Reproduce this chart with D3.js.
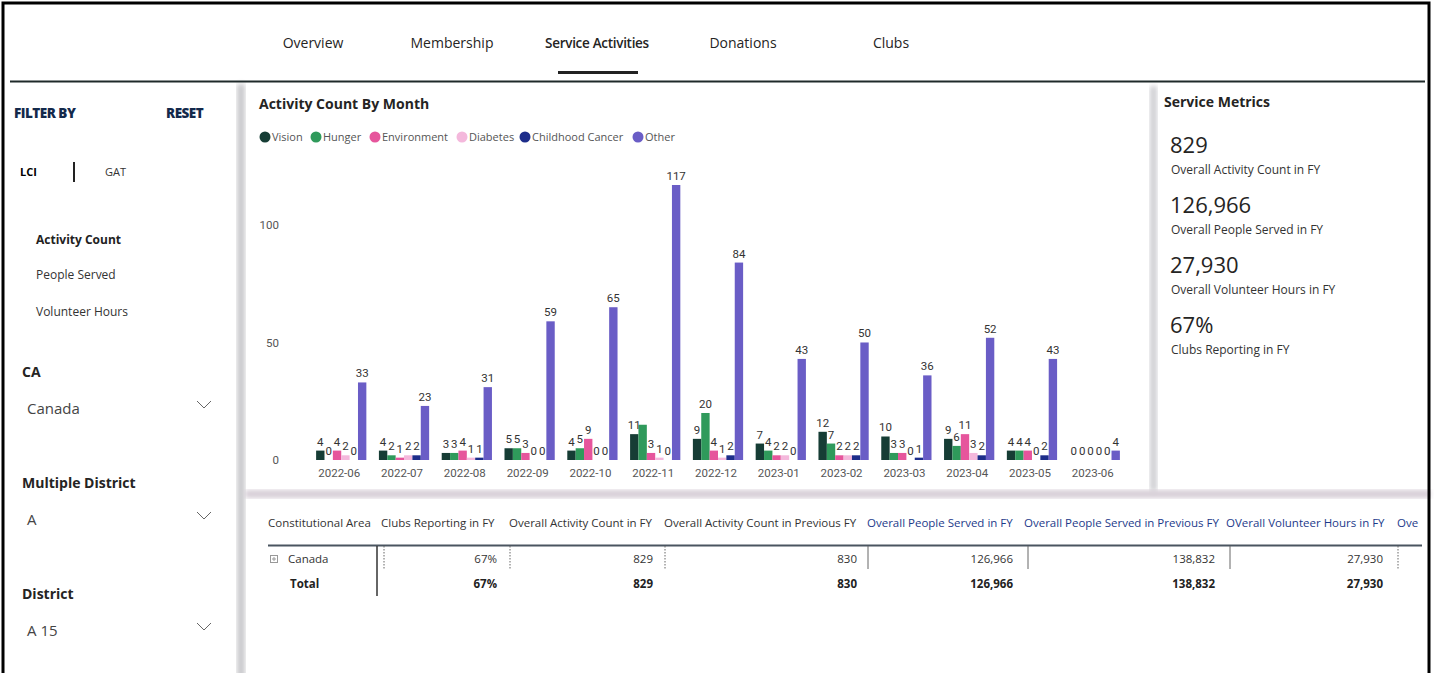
<!DOCTYPE html>
<html>
<head>
<meta charset="utf-8">
<script src="https://cdn.jsdelivr.net/npm/d3@7"></script>
<style>
  body { margin: 0; background: #fff; overflow: hidden; }
  svg { display: block; font-family: "Open Sans", "Noto Sans", sans-serif; }
</style>
</head>
<body>
<div id="page"></div>
<script>
// chart data
const months = ['2022-06', '2022-07', '2022-08', '2022-09', '2022-10', '2022-11', '2022-12',
                '2023-01', '2023-02', '2023-03', '2023-04', '2023-05', '2023-06'];
const seriesNames = ['Vision', 'Hunger', 'Environment', 'Diabetes', 'Childhood Cancer', 'Other'];
const vision = [4, 4, 3, 5, 4, 11, 9, 7, 12, 10, 9, 4, 0];
const hunger = [0, 2, 3, 5, 5, 15, 20, 4, 7, 3, 6, 4, 0];
const environment = [4, 1, 4, 3, 9, 3, 4, 2, 2, 3, 11, 4, 0];
const diabetes = [2, 2, 1, 0, 0, 1, 1, 2, 2, 0, 3, 0, 0];
const childhoodCancer = [0, 2, 1, 0, 0, 0, 2, 0, 2, 1, 2, 2, 0];
const other = [33, 23, 31, 59, 65, 117, 84, 43, 50, 36, 52, 43, 4];
const yTicks = [0, 50, 100];

// page text
const tabs = ['Overview', 'Membership', 'Service Activities', 'Donations', 'Clubs'];
const metricValues = ['829', '126,966', '27,930', '67%'];
const metricLabels = ['Overall Activity Count in FY', 'Overall People Served in FY',
                      'Overall Volunteer Hours in FY', 'Clubs Reporting in FY'];
const tableHeaders = ['Constitutional Area', 'Clubs Reporting in FY', 'Overall Activity Count in FY',
                      'Overall Activity Count in Previous FY', 'Overall People Served in FY',
                      'Overall People Served in Previous FY', 'OVerall Volunteer Hours in FY', 'Ove'];
const canadaRow = ['Canada', '67%', '829', '830', '126,966', '138,832', '27,930'];
const totalRow = ['Total', '67%', '829', '830', '126,966', '138,832', '27,930'];

const colors = ['#163d35', '#2f9a5b', '#e6559c', '#f4b8dc', '#1d2d8a', '#6a5dc6'];
const seriesValues = [vision, hunger, environment, diabetes, childhoodCancer, other];

const W = 1434, H = 673;
const svg = d3.select('#page').append('svg').attr('width', W).attr('height', H);

// soft shadows between the panels
const defs = svg.append('defs');
defs.append('filter').attr('id', 'blur').append('feGaussianBlur').attr('stdDeviation', 2.5);

svg.append('rect').attr('x', 237).attr('y', 84).attr('width', 8).attr('height', 600)
   .attr('fill', '#c9c9cc').attr('filter', 'url(#blur)');
svg.append('rect').attr('x', 1150).attr('y', 86).attr('width', 7).attr('height', 405)
   .attr('fill', '#cfcfd3').attr('filter', 'url(#blur)');
svg.append('rect').attr('x', 245).attr('y', 490).attr('width', 1185).attr('height', 8)
   .attr('fill', '#d6cdd6').attr('filter', 'url(#blur)');

// outer frame
svg.append('rect').attr('x', 3).attr('y', 3).attr('width', 1426).attr('height', 700)
   .attr('fill', 'none').attr('stroke', '#000').attr('stroke-width', 3);

// top navigation
const tabX = [313, 452, 597, 743, 891];
svg.selectAll('.tab').data(tabs).enter().append('text')
   .attr('x', (d, i) => tabX[i]).attr('y', 48)
   .attr('text-anchor', 'middle')
   .attr('font-size', d => d === 'Service Activities' ? 13.5 : 14)
   .attr('font-weight', d => d === 'Service Activities' ? 600 : 400)
   .attr('letter-spacing', d => d === 'Service Activities' ? -0.3 : 0)
   .attr('fill', '#252423')
   .text(d => d);
svg.append('rect').attr('x', 558).attr('y', 71).attr('width', 80).attr('height', 3).attr('fill', '#222');
svg.append('line').attr('x1', 10).attr('x2', 1425).attr('y1', 81.5).attr('y2', 81.5)
   .attr('stroke', '#1f2a2a').attr('stroke-width', 2);

// left filter panel
const left = svg.append('g');
left.append('text').attr('x', 14).attr('y', 118).attr('font-size', 13.5).attr('font-weight', 800)
    .attr('fill', '#13294b').attr('letter-spacing', -0.5).text('FILTER BY');
left.append('text').attr('x', 166).attr('y', 118).attr('font-size', 13.5).attr('font-weight', 800)
    .attr('fill', '#13294b').attr('letter-spacing', -0.5).text('RESET');
left.append('text').attr('x', 20).attr('y', 176).attr('font-size', 11).attr('font-weight', 700).text('LCI');
left.append('rect').attr('x', 73).attr('y', 162).attr('width', 2).attr('height', 20).attr('fill', '#222');
left.append('text').attr('x', 105).attr('y', 176).attr('font-size', 11).attr('fill', '#333').text('GAT');
left.append('text').attr('x', 36).attr('y', 244).attr('font-size', 12).attr('font-weight', 700).attr('fill', '#222').text('Activity Count');
left.append('text').attr('x', 36).attr('y', 279).attr('font-size', 12).attr('fill', '#333').text('People Served');
left.append('text').attr('x', 36).attr('y', 316).attr('font-size', 12).attr('fill', '#333').text('Volunteer Hours');

const slicers = [['CA', 'Canada', 377], ['Multiple District', 'A', 488], ['District', 'A 15', 599]];
slicers.forEach(([title, value, y]) => {
  left.append('text').attr('x', 22).attr('y', y).attr('font-size', 14).attr('font-weight', 700)
      .attr('fill', '#252423').text(title);
  left.append('text').attr('x', 27).attr('y', y + 37).attr('font-size', 15).attr('fill', '#444').text(value);
  left.append('path').attr('d', `M197,${y + 24} L204,${y + 31} L211,${y + 24}`)
      .attr('fill', 'none').attr('stroke', '#666').attr('stroke-width', 1);
});

// chart
svg.append('text').attr('x', 259).attr('y', 109).attr('font-size', 14).attr('font-weight', 700)
   .attr('fill', '#252423').text('Activity Count By Month');

const legend = svg.append('g').attr('font-size', 11).attr('fill', '#555');
const legendX = [265, 316, 375, 462, 525, 638];
seriesNames.forEach((name, i) => {
  legend.append('circle').attr('cx', legendX[i]).attr('cy', 137).attr('r', 5.5).attr('fill', colors[i]);
  legend.append('text').attr('x', legendX[i] + 7).attr('y', 141).attr('fill', '#555').text(name);
});

const x0 = d3.scaleBand().domain(months).range([291, 1145]).paddingInner(0.2).paddingOuter(0.4);
const x1 = d3.scaleBand().domain(seriesNames).range([0, x0.bandwidth()]);
const y = d3.scaleLinear().domain([0, 117]).range([460, 185]);

const yAxis = svg.append('g').attr('transform', 'translate(279,0)')
   .call(d3.axisLeft(y).tickValues(yTicks).tickSize(0).tickPadding(0));
yAxis.select('.domain').remove();
yAxis.selectAll('text').attr('font-family', 'Roboto, sans-serif').attr('font-size', 11.5).attr('fill', '#555');

const xAxis = svg.append('g').attr('transform', 'translate(-2,467)')
   .call(d3.axisBottom(x0).tickSize(0).tickPadding(0));
xAxis.select('.domain').remove();
xAxis.selectAll('text').attr('font-family', 'Roboto, sans-serif').attr('font-size', 11.5)
     .attr('fill', '#555').attr('dy', '0.9em');

const rows = months.map((m, i) => ({ month: m, vals: seriesNames.map((s, j) => ({ s, j, v: seriesValues[j][i] })) }));

const groups = svg.selectAll('.grp').data(rows).enter().append('g')
   .attr('transform', d => `translate(${x0(d.month)},0)`);

groups.selectAll('rect').data(d => d.vals).enter().append('rect')
   .attr('x', d => x1(d.s))
   .attr('y', d => y(d.v))
   .attr('width', x1.bandwidth())
   .attr('height', d => y(0) - y(d.v))
   .attr('fill', d => colors[d.j]);

groups.selectAll('text').data(d => d.vals).enter().append('text')
   .attr('x', d => x1(d.s) + x1.bandwidth() / 2)
   .attr('y', d => y(d.v) - 5)
   .attr('text-anchor', 'middle')
   .attr('font-family', 'Roboto, sans-serif')
   .attr('font-size', 11.5)
   .attr('fill', '#333')
   .text(d => d.v);

// hide a data label that collides with the previous shown one (as the original does)
groups.each(function () {
  let prev = null;
  d3.select(this).selectAll('text').each(function () {
    const b = this.getBBox();
    const box = { x0: b.x, x1: b.x + b.width, y0: b.y + 1, y1: b.y + b.height - 1 };
    if (prev && box.x0 < prev.x1 - 2 && box.y0 < prev.y1 && box.y1 > prev.y0) {
      d3.select(this).remove();
    } else {
      prev = box;
    }
  });
});

// right metrics panel
const right = svg.append('g');
right.append('text').attr('x', 1164).attr('y', 107).attr('font-size', 14).attr('font-weight', 700)
     .attr('fill', '#252423').text('Service Metrics');
metricValues.forEach((v, i) => {
  const top = 153 + i * 60;
  right.append('text').attr('x', 1170).attr('y', top).attr('font-size', 22).attr('fill', '#252423').text(v);
  right.append('text').attr('x', 1171).attr('y', top + 21).attr('font-size', 12).attr('fill', '#333').text(metricLabels[i]);
});

// table
const table = svg.append('g').attr('font-size', 11.5).attr('fill', '#333');
const headerX = [268, 381, 509, 664, 867, 1024, 1226, 1397];
const headerColor = ['#333', '#333', '#333', '#333', '#1d3a8a', '#1d3a8a', '#1d3a8a', '#1d3a8a'];
tableHeaders.forEach((h, i) => {
  table.append('text').attr('x', headerX[i]).attr('y', 527).attr('fill', headerColor[i]).text(h);
});
table.append('line').attr('x1', 268).attr('x2', 1422).attr('y1', 545.5).attr('y2', 545.5)
     .attr('stroke', '#4a5560').attr('stroke-width', 2);

const valueRight = [497, 653, 857, 1013, 1215, 1383];
table.append('rect').attr('x', 270.5).attr('y', 555.5).attr('width', 7).attr('height', 7)
     .attr('fill', 'none').attr('stroke', '#999');
table.append('path').attr('d', 'M272,559 h4 M274,557 v4').attr('stroke', '#999');
table.append('text').attr('x', 288).attr('y', 563).text(canadaRow[0]);
table.append('text').attr('x', 290).attr('y', 588).attr('font-weight', 700).attr('fill', '#222').text(totalRow[0]);
canadaRow.slice(1).forEach((v, i) => {
  table.append('text').attr('x', valueRight[i]).attr('y', 563).attr('text-anchor', 'end').text(v);
});
totalRow.slice(1).forEach((v, i) => {
  table.append('text').attr('x', valueRight[i]).attr('y', 588).attr('text-anchor', 'end')
       .attr('font-weight', 700).attr('fill', '#222').text(v);
});

table.append('line').attr('x1', 377).attr('x2', 377).attr('y1', 546).attr('y2', 596)
     .attr('stroke', '#333').attr('stroke-width', 1.5);
const sepX = [384, 510, 665, 868, 1028, 1230, 1398];
const sepDash = [true, true, true, false, false, false, true];
sepX.forEach((sx, i) => {
  table.append('line').attr('x1', sx).attr('x2', sx).attr('y1', 546).attr('y2', 569)
       .attr('stroke', '#666').attr('stroke-width', 1)
       .attr('stroke-dasharray', sepDash[i] ? '1.5,1.5' : null);
});
</script>
</body>
</html>
